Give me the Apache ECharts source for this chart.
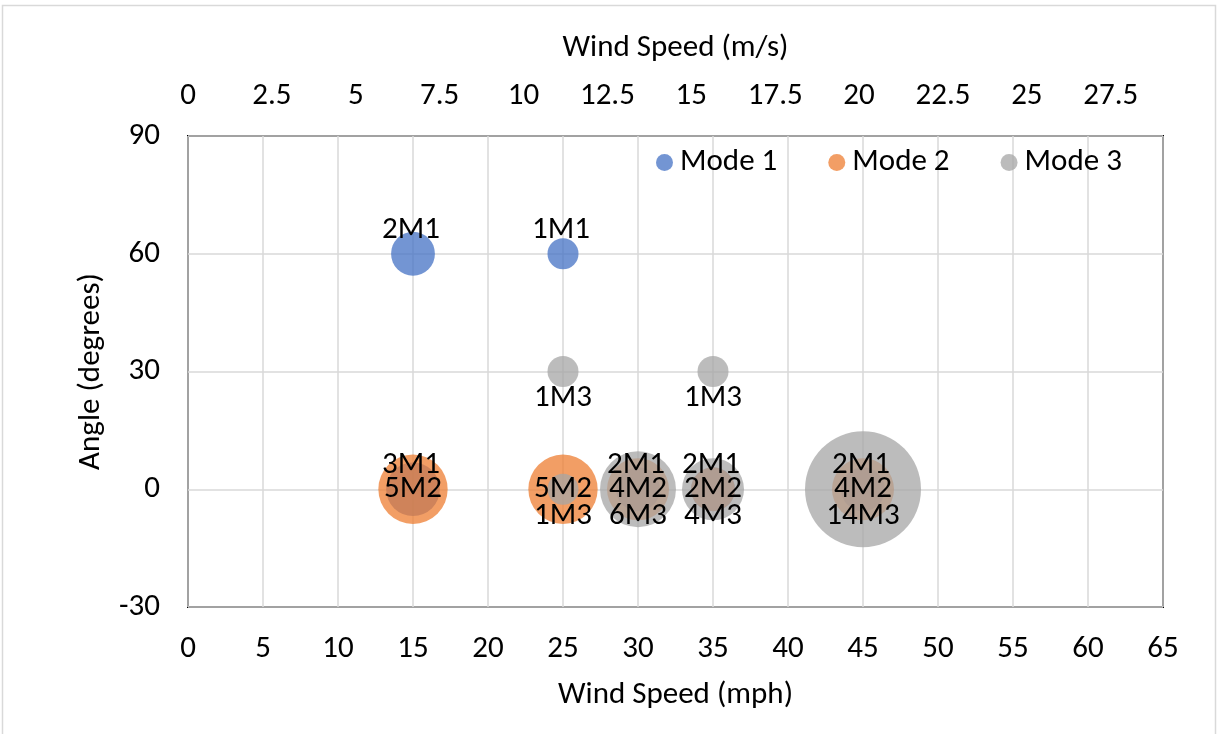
<!DOCTYPE html>
<html>
<head>
<meta charset="utf-8">
<script src="https://cdn.jsdelivr.net/npm/echarts@6/dist/echarts.min.js"></script>
<style>
  html, body { margin: 0; padding: 0; background: #fff; }
  #chart { width: 1222px; height: 734px; }
</style>
</head>
<body>
<div id="chart"></div>
<script>
// Bubble data: [wind speed (mph), angle (degrees), number of occurrences]
const mode1 = [[15, 60, 2], [25, 60, 1], [15, 0, 3], [30, 0, 2], [35, 0, 2], [45, 0, 2]];
const mode2 = [[15, 0, 5], [25, 0, 5], [30, 0, 4], [35, 0, 2], [45, 0, 4]];
const mode3 = [[25, 30, 1], [35, 30, 1], [25, 0, 1], [30, 0, 6], [35, 0, 4], [45, 0, 14]];

const seriesNames = ['Mode 1', 'Mode 2', 'Mode 3'];
const labelSuffix = ['M1', 'M2', 'M3'];

// Axis ranges
const mphMin = 0, mphMax = 65, mphStep = 5;
const angleMin = -30, angleMax = 90, angleStep = 30;
const MPH_TO_MS = 0.44704;
const msStep = 2.5;

const FONT = 'Carlito, Calibri, Lato, sans-serif';
const FS = 31;
const colors = ['#4472C4', '#ED7D31', '#A5A5A5'];
// Mode 1 labels sit above the bubble centre, Mode 2 on it, Mode 3 below
const labelOffsets = [[-2, -24], [0, 0], [0, 27]];

// Bubble area proportional to count
const bubbleSize = v => 31 * Math.sqrt(v[2]);

const chart = echarts.init(document.getElementById('chart'), null, { renderer: 'canvas' });

const makeSeries = (data, i) => ({
  name: seriesNames[i],
  type: 'scatter',
  xAxisIndex: 0,
  yAxisIndex: 0,
  data: data,
  symbol: 'circle',
  symbolSize: bubbleSize,
  itemStyle: { color: colors[i], opacity: 0.75 },
  emphasis: { disabled: true },
  label: {
    show: true,
    position: 'inside',
    offset: labelOffsets[i],
    formatter: p => p.value[2] + labelSuffix[i],
    color: '#000',
    opacity: 1,
    textBorderWidth: 0,
    fontFamily: FONT,
    fontSize: FS
  }
});

chart.setOption({
  animation: false,
  backgroundColor: '#fff',
  textStyle: { fontFamily: FONT },
  graphic: [{
    type: 'rect',
    shape: { x: 2.5, y: 5.5, width: 1213, height: 740 },
    style: { fill: 'none', stroke: '#D9D9D9', lineWidth: 1.5 },
    silent: true,
    z: -10
  }],
  grid: {
    left: 188, right: 59, top: 136, bottom: 127,
    show: true, borderColor: '#000', borderWidth: 2, backgroundColor: 'transparent'
  },
  legend: {
    data: seriesNames,
    left: 651, top: 142,
    icon: 'circle',
    itemWidth: 17, itemHeight: 17,
    itemGap: 51,
    textStyle: { fontFamily: FONT, fontSize: FS, color: '#000', padding: [0, 0, 0, 2] },
    itemStyle: { opacity: 0.75 }
  },
  xAxis: [{
    type: 'value',
    position: 'bottom',
    min: mphMin, max: mphMax, interval: mphStep,
    name: 'Wind Speed (mph)',
    nameLocation: 'middle',
    nameGap: 73,
    nameTextStyle: { fontFamily: FONT, fontSize: FS, color: '#000' },
    axisLine: { show: false },
    axisTick: { show: false },
    axisLabel: { fontFamily: FONT, fontSize: FS, color: '#000', margin: 27 },
    splitLine: { show: true, lineStyle: { color: '#D9D9D9', width: 1.5 } }
  }, {
    type: 'value',
    position: 'top',
    min: mphMin * MPH_TO_MS, max: mphMax * MPH_TO_MS, interval: msStep,
    name: 'Wind Speed (m/s)',
    nameLocation: 'middle',
    nameGap: 72,
    nameTextStyle: { fontFamily: FONT, fontSize: FS, color: '#000' },
    axisLine: { show: false },
    axisTick: { show: false },
    axisLabel: { fontFamily: FONT, fontSize: FS, color: '#000', margin: 24, showMaxLabel: false },
    splitLine: { show: false }
  }],
  yAxis: {
    type: 'value',
    min: angleMin, max: angleMax, interval: angleStep,
    name: 'Angle (degrees)',
    nameLocation: 'middle',
    nameGap: 81,
    nameTextStyle: { fontFamily: FONT, fontSize: FS, color: '#000' },
    axisLine: { show: false },
    axisTick: { show: false },
    axisLabel: { fontFamily: FONT, fontSize: FS, color: '#000', margin: 28 },
    splitLine: { show: true, lineStyle: { color: '#D9D9D9', width: 1.5 } }
  },
  series: [makeSeries(mode1, 0), makeSeries(mode2, 1), makeSeries(mode3, 2)]
});
</script>
</body>
</html>
